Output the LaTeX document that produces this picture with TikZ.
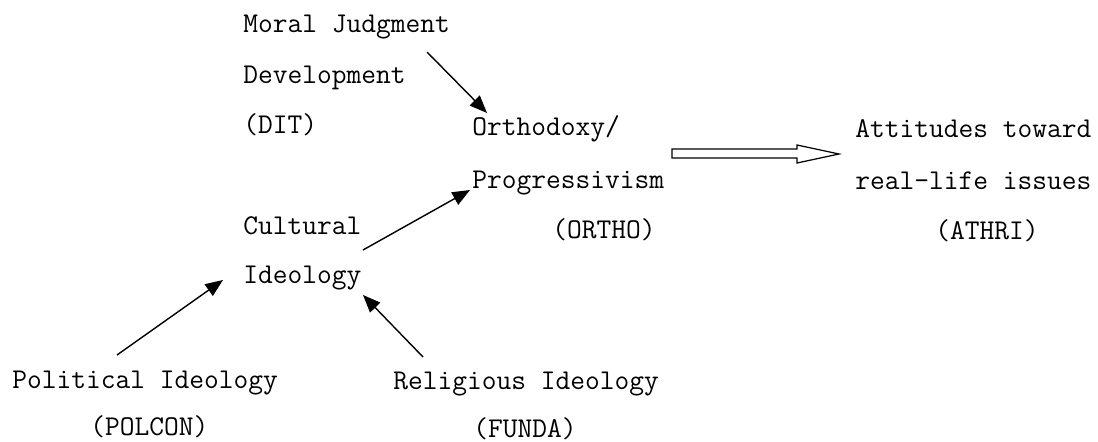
\documentclass[tikz,border=0pt]{standalone}
\usepackage{fontspec}
\usetikzlibrary{arrows.meta,calc}

\begin{document}
\begin{tikzpicture}[
				x=0.02cm,
				y=-0.02cm,
				term/.style={
					anchor=base west,
					inner sep=0pt,
					font=\ttfamily\fontsize{16.3pt}{19pt}\selectfont
					},
				line/.style={
					draw,
					line width=0.8pt,
					-{Triangle[length=10pt,width=8pt]}
					},
				bigline/.style={
					draw,
					line width=0.7pt,
					line join=miter,
					fill=white
					}]
			    \useasboundingbox (0,0) rectangle (1098,442);
			    % Place nodes
			    \node [term] (moral) at (243,33) {Moral Judgment};
			    \node [term] (devel) at (243,84) {Development};
			    \node [term] (dit) at (243,134) {(DIT)};
			    \node [term] (ortho) at (472,136) {Orthodoxy/};
			    \node [term] (progr) at (472,189) {Progressivism};
			    \node [term] (ortholbl) at (552,238) {(ORTHO)};
			    \node [term] (attit) at (855,138) {Attitudes toward};
			    \node [term] (reallife) at (855,190) {real-life issues};
			    \node [term] (athri) at (935,239) {(ATHRI)};
			    \node [term] (cult) at (243,235) {Cultural};
			    \node [term] (ideol) at (243,283) {Ideology};
			    \node [term] (polit) at (12,388) {Political Ideology};
			    \node [term] (polcon) at (90,435) {(POLCON)};
			    \node [term] (relig) at (393,389) {Religious Ideology};
			    \node [term] (funda) at (473,437) {(FUNDA)};

			    % Draw edges
			    \path [line] ($(moral.base west)+(184,19)$) -- ($(ortho.base west)+(15,-23)$);
			    \path [line] ($(cult.base west)+(120,15)$) -- ($(progr.base west)+(-2,1)$);
			    \path [line] ($(polit.base west)+(105,-33)$) -- ($(ideol.base west)+(-20,-3)$);
			    \path [line] ($(relig.base west)+(30,-32)$) -- ($(ideol.base west)+(120,12)$);
			    \path [bigline] ($(ortho.base west)+(200,13)$) -- ++(125,0) -- ++(0,-4)
			        -- ($(attit.base west)+(-16,16)$) -- ++(-42,9) -- ++(0,-5) -- ++(-125,0) -- cycle;
			\end{tikzpicture}
\end{document}
